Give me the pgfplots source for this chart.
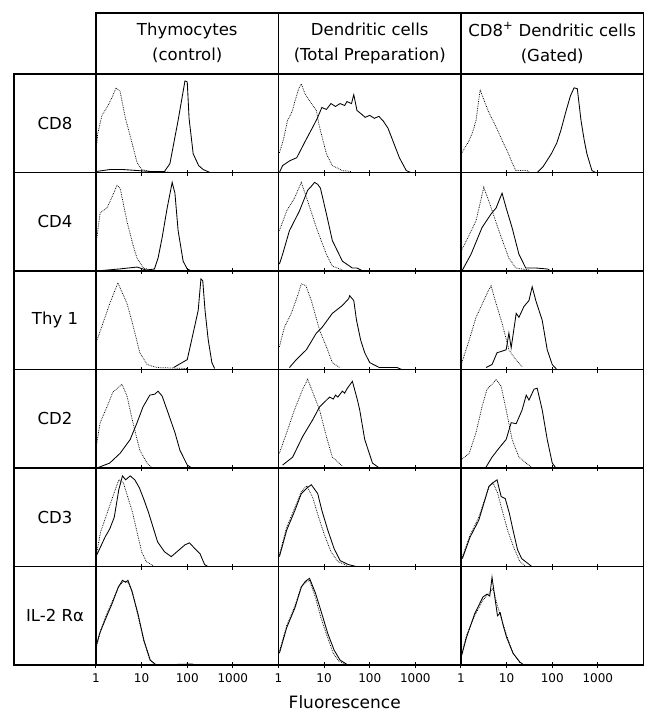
\documentclass[border=0pt]{standalone}
\usepackage{fontspec}
\setmainfont{DejaVu Sans}
\usepackage{pgfplots}
\pgfplotsset{compat=1.18}
\usepgfplotslibrary{groupplots}

\newcommand{\hdr}{\fontsize{16.5}{25}\selectfont}
\newcommand{\tl}[1]{\mbox{\fontsize{12}{14}\selectfont #1}}
\pgfplotsset{
  neg/.style={black, densely dotted, line width=0.75pt},
  stain/.style={black, line width=0.85pt},
  bottomrow/.style={xticklabels={\tl{1},\tl{10},\tl{100},\tl{1000}}},
}

\begin{document}
\begin{tikzpicture}
\begin{groupplot}[
  group style={group size=3 by 6, horizontal sep=0pt, vertical sep=0pt},
  width=182.5pt, height=98.5pt, scale only axis,
  xmin=0, xmax=4, ymin=0, ymax=1,
  xtick={0,1,2,3}, xticklabels={}, ytick=\empty,
  tick align=center, xtick pos=left, major tick length=6pt,
  axis line style={line width=1.4pt},
  every tick/.style={black, line width=1pt},
  xticklabel style={yshift=-2pt},
]
% row 1: CD8
\nextgroupplot
\addplot[neg] coordinates {(0.02,0.3)(0.04,0.4)(0.13,0.58)(0.24,0.66)(0.35,0.76)(0.44,0.86)(0.53,0.82)(0.64,0.56)(0.79,0.3)(0.9,0.1)(1.0,0.03)(1.2,0.01)(1.6,0.005)};
\addplot[stain] coordinates {(0,0.01)(0.3,0.03)(0.6,0.03)(0.9,0.02)(1.2,0.01)(1.5,0.01)(1.62,0.09)(1.8,0.53)(1.95,0.93)(2.0,0.92)(2.04,0.55)(2.13,0.19)(2.25,0.07)(2.35,0.03)(2.5,0)};
\nextgroupplot
\addplot[neg] coordinates {(0.02,0.2)(0.1,0.32)(0.2,0.53)(0.3,0.62)(0.37,0.74)(0.45,0.86)(0.5,0.9)(0.58,0.8)(0.66,0.74)(0.83,0.63)(0.9,0.46)(1.05,0.19)(1.18,0.07)(1.4,0.02)(1.6,0.01)};
\addplot[stain] coordinates {(0.02,0)(0.09,0.07)(0.25,0.12)(0.4,0.15)(0.6,0.33)(0.75,0.46)(0.85,0.55)(0.95,0.66)(1.05,0.64)(1.15,0.7)(1.25,0.67)(1.35,0.7)(1.45,0.68)(1.5,0.72)(1.6,0.7)(1.65,0.79)(1.72,0.63)(1.8,0.6)(1.9,0.56)(2.0,0.58)(2.1,0.55)(2.2,0.57)(2.3,0.52)(2.4,0.45)(2.5,0.33)(2.65,0.15)(2.8,0.02)(2.9,0)};
\nextgroupplot
\addplot[neg] coordinates {(0.02,0.2)(0.15,0.3)(0.25,0.4)(0.33,0.53)(0.42,0.84)(0.5,0.74)(0.6,0.62)(0.75,0.48)(0.9,0.33)(1.05,0.18)(1.12,0.1)(1.2,0.02)(1.45,0.02)(1.5,0)};
\addplot[stain] coordinates {(1.67,0)(1.8,0.06)(1.98,0.19)(2.1,0.3)(2.19,0.43)(2.3,0.62)(2.4,0.78)(2.48,0.86)(2.55,0.85)(2.63,0.53)(2.7,0.33)(2.76,0.19)(2.87,0.02)(2.95,0)};
% row 2: CD4
\nextgroupplot
\addplot[neg] coordinates {(0.02,0.34)(0.09,0.59)(0.24,0.64)(0.35,0.75)(0.46,0.87)(0.53,0.84)(0.68,0.5)(0.82,0.25)(0.9,0.13)(1.04,0.03)(1.2,0.01)(1.5,0)};
\addplot[stain] coordinates {(0,0)(0.5,0.02)(0.9,0.04)(1.1,0.01)(1.28,0.02)(1.36,0.13)(1.45,0.34)(1.56,0.64)(1.67,0.9)(1.73,0.79)(1.8,0.41)(1.91,0.1)(2.0,0.02)(2.1,0)};
\nextgroupplot
\addplot[neg] coordinates {(0.02,0.41)(0.18,0.61)(0.35,0.74)(0.5,0.9)(0.64,0.71)(0.83,0.44)(1.05,0.17)(1.18,0.05)(1.4,0.01)};
\addplot[stain] coordinates {(0.02,0.07)(0.09,0.17)(0.24,0.41)(0.46,0.61)(0.64,0.82)(0.72,0.86)(0.79,0.9)(0.86,0.88)(0.92,0.84)(1.05,0.58)(1.18,0.31)(1.4,0.1)(1.62,0.03)(1.72,0.03)(1.85,0)};
\nextgroupplot
\addplot[neg] coordinates {(0,0.2)(0.11,0.3)(0.33,0.51)(0.5,0.85)(0.61,0.71)(0.83,0.41)(1.05,0.13)(1.2,0.03)(1.5,0.01)};
\addplot[stain] coordinates {(0.02,0)(0.22,0.17)(0.46,0.44)(0.66,0.58)(0.77,0.64)(0.83,0.71)(0.9,0.79)(0.99,0.64)(1.12,0.44)(1.27,0.17)(1.42,0.03)(1.65,0.03)(1.9,0.02)(1.97,0)};
% row 3: Thy 1
\nextgroupplot
\addplot[neg] coordinates {(0,0.27)(0.13,0.44)(0.31,0.68)(0.48,0.88)(0.68,0.67)(0.81,0.45)(0.96,0.17)(1.12,0.05)(1.34,0.02)(2.0,0.01)};
\addplot[stain] coordinates {(1.7,0.02)(2.0,0.1)(2.13,0.37)(2.24,0.6)(2.3,0.92)(2.34,0.9)(2.39,0.6)(2.46,0.3)(2.54,0.07)(2.6,0.01)};
\nextgroupplot
\addplot[neg] coordinates {(0.02,0.23)(0.13,0.43)(0.28,0.57)(0.42,0.75)(0.5,0.87)(0.6,0.85)(0.72,0.7)(0.9,0.4)(1.05,0.23)(1.18,0.07)(1.34,0.02)};
\addplot[stain] coordinates {(0.24,0.02)(0.39,0.1)(0.61,0.2)(0.83,0.37)(0.96,0.43)(1.18,0.57)(1.4,0.65)(1.54,0.72)(1.56,0.75)(1.65,0.7)(1.71,0.5)(1.8,0.3)(1.89,0.17)(2.0,0.07)(2.21,0.02)(2.6,0.02)(2.7,0)};
\nextgroupplot
\addplot[neg] coordinates {(0.02,0.07)(0.18,0.3)(0.33,0.53)(0.5,0.7)(0.6,0.8)(0.66,0.85)(0.75,0.7)(0.9,0.47)(1.05,0.2)(1.2,0.1)(1.34,0.03)};
\addplot[stain] coordinates {(0.55,0.02)(0.68,0.05)(0.79,0.17)(0.99,0.2)(1.05,0.37)(1.1,0.22)(1.21,0.57)(1.27,0.53)(1.38,0.64)(1.49,0.7)(1.56,0.84)(1.64,0.7)(1.78,0.5)(1.89,0.2)(2.0,0.05)(2.1,0)};
% row 4: CD2
\nextgroupplot
\addplot[neg] coordinates {(0,0.2)(0.09,0.46)(0.24,0.62)(0.37,0.77)(0.57,0.85)(0.68,0.73)(0.81,0.46)(0.96,0.18)(1.12,0.05)(1.23,0)};
\addplot[stain] coordinates {(0.02,0)(0.3,0.05)(0.53,0.15)(0.75,0.29)(0.9,0.46)(1.03,0.62)(1.18,0.74)(1.29,0.75)(1.36,0.78)(1.45,0.73)(1.58,0.56)(1.73,0.36)(1.84,0.18)(2.0,0.03)(2.1,0)};
\nextgroupplot
\addplot[neg] coordinates {(0.02,0.15)(0.18,0.36)(0.35,0.59)(0.53,0.8)(0.64,0.9)(0.75,0.77)(0.9,0.59)(1.05,0.32)(1.18,0.11)(1.4,0.02)};
\addplot[stain] coordinates {(0.09,0.03)(0.31,0.11)(0.53,0.32)(0.75,0.49)(0.9,0.62)(1.12,0.72)(1.2,0.7)(1.25,0.74)(1.3,0.72)(1.4,0.78)(1.45,0.76)(1.51,0.81)(1.62,0.88)(1.73,0.69)(1.78,0.59)(1.89,0.29)(2.06,0.05)(2.21,0)};
\nextgroupplot
\addplot[neg] coordinates {(0,0.08)(0.18,0.15)(0.33,0.36)(0.46,0.62)(0.57,0.8)(0.68,0.85)(0.77,0.9)(0.88,0.83)(0.99,0.59)(1.12,0.29)(1.27,0.11)(1.43,0.05)(1.54,0.01)};
\addplot[stain] coordinates {(0.55,0.01)(0.68,0.11)(0.83,0.2)(0.99,0.29)(1.1,0.46)(1.21,0.45)(1.34,0.59)(1.43,0.74)(1.49,0.69)(1.6,0.8)(1.67,0.81)(1.78,0.59)(1.89,0.29)(2.0,0.05)(2.08,0)};
% row 5: CD3
\nextgroupplot
\addplot[neg] coordinates {(0,0.1)(0.1,0.35)(0.25,0.55)(0.4,0.75)(0.5,0.88)(0.6,0.85)(0.7,0.7)(0.8,0.55)(0.9,0.35)(1.0,0.15)(1.1,0.05)(1.25,0.01)};
\addplot[stain] coordinates {(0,0.1)(0.1,0.2)(0.2,0.3)(0.3,0.38)(0.4,0.5)(0.5,0.78)(0.58,0.92)(0.65,0.88)(0.75,0.92)(0.85,0.88)(0.95,0.8)(1.05,0.68)(1.15,0.55)(1.25,0.4)(1.35,0.25)(1.5,0.15)(1.65,0.1)(1.8,0.16)(1.95,0.22)(2.05,0.24)(2.15,0.19)(2.28,0.13)(2.38,0.02)(2.45,0)};
\nextgroupplot
\addplot[neg] coordinates {(0.02,0.12)(0.18,0.4)(0.36,0.6)(0.5,0.76)(0.62,0.82)(0.75,0.7)(0.88,0.5)(1.0,0.33)(1.15,0.15)(1.3,0.05)(1.5,0.01)};
\addplot[stain] coordinates {(0.02,0.1)(0.18,0.37)(0.36,0.57)(0.5,0.74)(0.63,0.8)(0.72,0.83)(0.86,0.74)(0.95,0.57)(1.08,0.37)(1.22,0.18)(1.35,0.06)(1.53,0.02)(1.7,0)};
\nextgroupplot
\addplot[neg] coordinates {(0.03,0.1)(0.2,0.32)(0.39,0.5)(0.52,0.68)(0.62,0.82)(0.7,0.85)(0.8,0.75)(0.88,0.61)(1.02,0.37)(1.15,0.2)(1.29,0.05)(1.4,0.01)};
\addplot[stain] coordinates {(0.03,0.08)(0.2,0.3)(0.39,0.47)(0.52,0.67)(0.61,0.81)(0.7,0.85)(0.79,0.88)(0.88,0.71)(0.97,0.69)(1.06,0.54)(1.14,0.37)(1.24,0.17)(1.33,0.08)(1.47,0.03)(1.55,0)};
% row 6: IL-2 R alpha
\nextgroupplot[bottomrow]
\addplot[neg] coordinates {(0.02,0.2)(0.1,0.35)(0.22,0.5)(0.35,0.64)(0.5,0.8)(0.6,0.85)(0.7,0.84)(0.8,0.74)(0.92,0.5)(1.05,0.24)(1.18,0.05)(1.3,0)};
\addplot[stain] coordinates {(0.02,0.22)(0.08,0.32)(0.22,0.48)(0.35,0.62)(0.49,0.79)(0.58,0.86)(0.65,0.84)(0.7,0.86)(0.78,0.76)(0.92,0.52)(1.05,0.25)(1.19,0.05)(1.32,0)(2.1,0.01)(2.2,0)};
\nextgroupplot[bottomrow]
\addplot[neg] coordinates {(0.02,0.14)(0.18,0.4)(0.36,0.6)(0.5,0.8)(0.6,0.84)(0.68,0.86)(0.8,0.7)(0.93,0.48)(1.06,0.3)(1.2,0.12)(1.32,0.04)(1.45,0.01)};
\addplot[stain] coordinates {(0.02,0.12)(0.18,0.38)(0.36,0.58)(0.5,0.79)(0.59,0.85)(0.68,0.88)(0.81,0.73)(0.95,0.52)(1.08,0.32)(1.22,0.15)(1.35,0.05)(1.49,0.01)};
\nextgroupplot[bottomrow]
\addplot[neg] coordinates {(0.01,0.1)(0.12,0.3)(0.3,0.5)(0.48,0.66)(0.6,0.72)(0.7,0.78)(0.8,0.6)(0.9,0.45)(1.0,0.3)(1.14,0.12)(1.3,0.02)};
\addplot[stain] coordinates {(0.01,0.09)(0.12,0.28)(0.3,0.52)(0.48,0.69)(0.57,0.72)(0.63,0.7)(0.68,0.89)(0.75,0.66)(0.8,0.5)(0.86,0.53)(0.92,0.41)(1.0,0.28)(1.14,0.12)(1.29,0.03)(1.38,0)};
\end{groupplot}

% header boxes
\draw[line width=1.4pt] (group c1r1.north west) rectangle ++(547.5pt,61pt);
\draw[line width=1.4pt] (group c2r1.north west) -- ++(0,61pt);
\draw[line width=1.4pt] (group c3r1.north west) -- ++(0,61pt);
\node[align=center, font=\hdr] at ([yshift=31pt]group c1r1.north) {Thymocytes\\(control)};
\node[align=center, font=\hdr] at ([yshift=31pt]group c2r1.north) {Dendritic cells\\(Total Preparation)};
\node[align=center, font=\hdr] at ([yshift=31pt]group c3r1.north) {CD8\textsuperscript{+} Dendritic cells\\(Gated)};

% row label column
\draw[line width=1.4pt] (group c1r6.south west) -- ++(-82pt,0) |- (group c1r1.north west);
\foreach \r in {1,...,5} \draw[line width=1.4pt] (group c1r\r.south west) -- ++(-82pt,0);
\node[font=\hdr] at ([xshift=-41pt]group c1r1.west) {CD8};
\node[font=\hdr] at ([xshift=-41pt]group c1r2.west) {CD4};
\node[font=\hdr] at ([xshift=-41pt]group c1r3.west) {Thy 1};
\node[font=\hdr] at ([xshift=-41pt]group c1r4.west) {CD2};
\node[font=\hdr] at ([xshift=-41pt]group c1r5.west) {CD3};
\node[font=\hdr] at ([xshift=-41pt]group c1r6.west) {IL-2 Rα};

\node[font=\fontsize{17}{20}\selectfont] at ([xshift=-25pt,yshift=-37pt]group c2r6.south) {Fluorescence};

\pgfresetboundingbox
\path[use as bounding box] (group c1r1.north west) ++(-96pt,74pt) rectangle ++(645pt,-715pt);
\end{tikzpicture}
\end{document}
